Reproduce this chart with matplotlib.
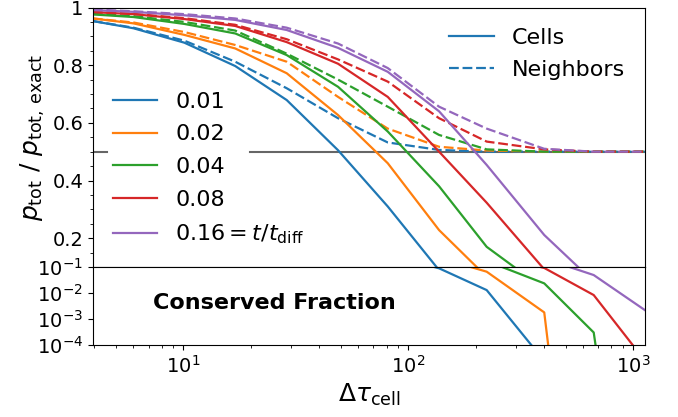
import matplotlib
matplotlib.use("Agg")
import matplotlib.pyplot as plt
from matplotlib.ticker import AutoMinorLocator, NullLocator

# time step grid
dtau = [3.96, 6.0, 10.1, 17.0, 28.8, 48.7, 81.0, 137.0, 223.0, 402.0, 667.0, 1125.0]
fractions = ["0.01", "0.02", "0.04", "0.08", "0.16"]

cells = {
    "0.01": [0.953, 0.928, 0.878, 0.797, 0.679, 0.505, 0.31, 0.089, 0.0129, 2.4e-5, 1e-20, 1e-20],
    "0.02": [0.962, 0.945, 0.905, 0.858, 0.772, 0.627, 0.46, 0.228, 0.066, 1.78e-3, 3e-19, 1e-20],
    "0.04": [0.976, 0.967, 0.943, 0.91, 0.835, 0.725, 0.57, 0.38, 0.17, 0.0234, 3.0e-4, 1e-17],
    "0.08": [0.984, 0.977, 0.96, 0.936, 0.88, 0.805, 0.69, 0.50, 0.323, 0.092, 0.0083, 2.5e-5],
    "0.16": [0.991, 0.985, 0.973, 0.957, 0.922, 0.86, 0.777, 0.64, 0.454, 0.211, 0.049, 0.0022],
}
neighbors = {
    "0.01": [0.953, 0.93, 0.885, 0.812, 0.72, 0.616, 0.532, 0.506, 0.5, 0.5, 0.5, 0.5],
    "0.02": [0.962, 0.948, 0.915, 0.87, 0.812, 0.69, 0.58, 0.517, 0.504, 0.5, 0.5, 0.5],
    "0.04": [0.978, 0.97, 0.95, 0.92, 0.84, 0.75, 0.656, 0.558, 0.508, 0.5, 0.5, 0.5],
    "0.08": [0.985, 0.978, 0.963, 0.94, 0.89, 0.82, 0.743, 0.616, 0.535, 0.508, 0.5, 0.5],
    "0.16": [0.993, 0.987, 0.977, 0.962, 0.93, 0.875, 0.79, 0.656, 0.58, 0.51, 0.5, 0.5],
}
legend_labels = ["0.01", "0.02", "0.04", "0.08", r"0.16$=t/t_{\rm diff}$"]
colors = ["C0", "C1", "C2", "C3", "C4"]

LW = 1.6
DASH = (4.4, 1.7)

fig, (top, bottom) = plt.subplots(
    2, 1, sharex=True, figsize=(6.78, 4.17), dpi=100,
    gridspec_kw={"height_ratios": [10, 3], "hspace": 0},
)
fig.subplots_adjust(left=0.137, right=0.951, top=0.982, bottom=0.173)

handles = []
for frac, color, label in zip(fractions, colors, legend_labels):
    (h,) = top.plot(dtau, cells[frac], color=color, lw=LW, label=label)
    top.plot(dtau, neighbors[frac], color=color, lw=LW, ls="--", dashes=DASH)
    bottom.plot(dtau, cells[frac], color=color, lw=LW)
    handles.append(h)

# half level, broken where the legend sits
top.axhline(0.5, xmax=0.025, color="0.4", lw=1.5, zorder=0.5)
top.axhline(0.5, xmin=0.284, color="0.4", lw=1.5, zorder=0.5)

top.set_xscale("log")
top.set_xlim(dtau[0], dtau[-1])
top.set_ylim(0.1, 1)
top.set_yticks([0.2, 0.4, 0.6, 0.8, 1.0], ["0.2", "0.4", "0.6", "0.8", "1"])
top.yaxis.set_minor_locator(AutoMinorLocator(4))
top.tick_params(labelsize=14)
top.set_ylabel(r"$p_{\rm tot}$ / $p_{\rm tot,\,exact}$", fontsize=18)

leg1 = top.legend(handles=handles, loc="lower left", fontsize=16, frameon=False,
                  labelspacing=0.57, bbox_to_anchor=(0.0, 0.004))
top.add_artist(leg1)
style_handles = [
    plt.Line2D([], [], color="C0", lw=LW, label="Cells"),
    plt.Line2D([], [], color="C0", lw=LW, ls="--", dashes=DASH, label="Neighbors"),
]
top.legend(handles=style_handles, loc="upper right", fontsize=16, frameon=False,
           labelspacing=0.57)

bottom.set_yscale("log")
bottom.set_ylim(1e-4, 1e-1)
bottom.set_yticks([1e-4, 1e-3, 1e-2, 1e-1])
bottom.yaxis.set_minor_locator(NullLocator())
bottom.tick_params(labelsize=14)
bottom.set_xlabel(r"$\Delta\tau_{\rm cell}$", fontsize=18)
bottom.text(0.109, 0.54, "Conserved Fraction", transform=bottom.transAxes,
            fontsize=16, fontweight="bold", va="center", ha="left")

fig.savefig("out.png", dpi=100)
